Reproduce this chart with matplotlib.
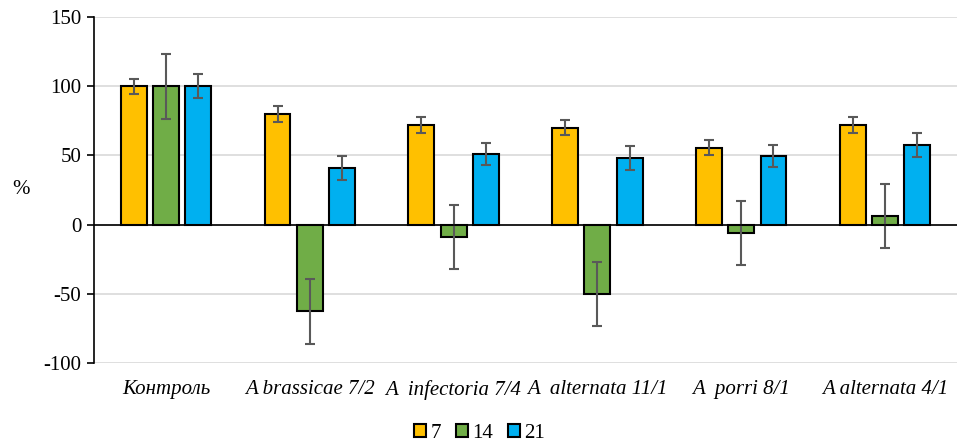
import numpy as np
import matplotlib.pyplot as plt

categories = ['Контроль', 'A brassicae 7/2', 'A  infectoria 7/4', 'A  alternata 11/1', 'A  porri 8/1', 'A alternata 4/1']
series = ['7', '14', '21']
vals_7 = [100, 80, 72, 70, 55.5, 72]
vals_14 = [100, -62.5, -9, -50, -6, 6]
vals_21 = [100, 41, 51, 48, 49.5, 57.5]
err_7 = [5.5, 6, 5.5, 5.5, 5.5, 5.5]
err_14 = [23.5, 23.5, 23, 23, 23, 23]
err_21 = [8.5, 8.5, 8, 8.5, 8, 9]
colors = ['#ffc000', '#70ad47', '#00b0f0']

FONT = 'Liberation Serif'
plt.rcParams['font.family'] = FONT
plt.rcParams['axes.unicode_minus'] = False

fig = plt.figure(figsize=(9.59, 4.47), dpi=100)
ax = fig.add_axes([94/959, 1-363/447, (957-94)/959, 346/447])

x = np.arange(len(categories))
w = 0.18
step = 0.224
for i, (v, e, c, lab) in enumerate(zip([vals_7, vals_14, vals_21], [err_7, err_14, err_21], colors, series)):
    ax.bar(x + (i-1)*step, v, w, color=c, edgecolor='black', linewidth=1.5, label=lab, zorder=3)
    ax.errorbar(x + (i-1)*step, v, yerr=e, fmt='none', ecolor='#595959', elinewidth=1.5, capsize=3.5, capthick=1.5, zorder=4)

ax.axhline(0, color='black', linewidth=1.2, zorder=5)
ax.set_ylim(-100, 150)
ax.set_yticks([-100, -50, 0, 50, 100, 150])
ax.set_xlim(-0.5, len(categories)-0.5)
ax.yaxis.grid(True, color='#d9d9d9', linewidth=1.2, zorder=0)
ax.set_axisbelow(True)
for s in ['top', 'right', 'bottom']:
    ax.spines[s].set_visible(False)
ax.spines['left'].set_linewidth(1.2)
ax.tick_params(axis='y', labelsize=15, length=5, width=1.2, pad=4)
ax.tick_params(axis='x', length=0, labelsize=15, pad=12)
ax.set_xticks(x)
ax.set_xticklabels(categories, style='italic', family=FONT)
for t in ax.get_yticklabels():
    t.set_family(FONT)
ax.set_ylabel('%', fontsize=15, rotation=0, va='center', family=FONT)
ax.yaxis.set_label_coords(-0.085, 0.5)

fig.legend(loc='center', bbox_to_anchor=(0.5, 1-433/447), ncol=3, frameon=False,
           prop={'family': FONT, 'size': 15},
           handlelength=0.6, handleheight=0.6, handletextpad=0.2, columnspacing=0.7)
fig.savefig('out.png', dpi=100)
